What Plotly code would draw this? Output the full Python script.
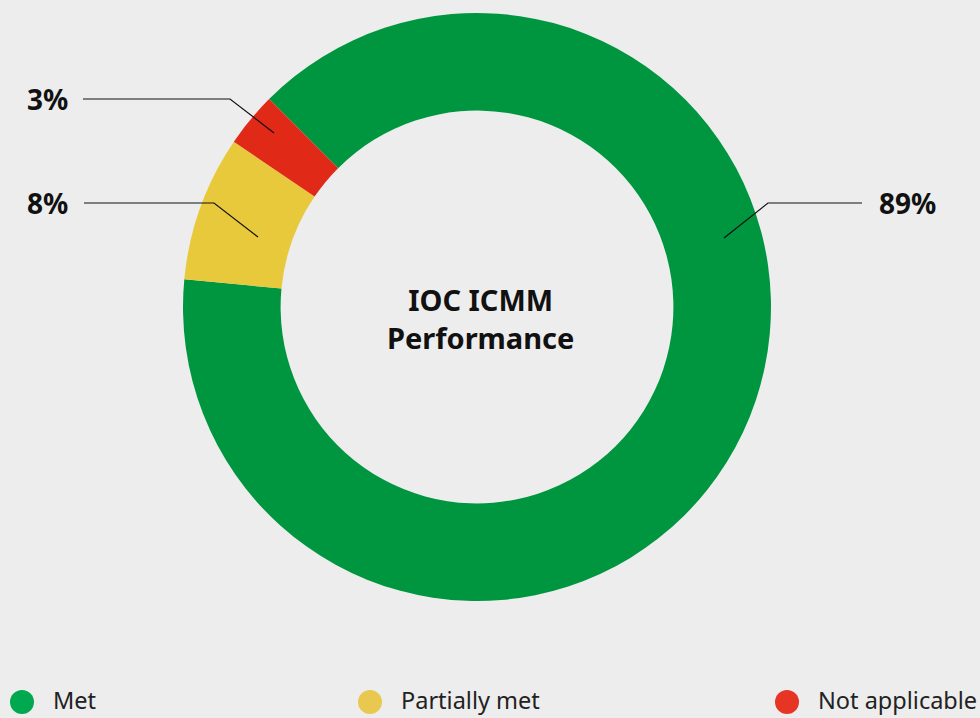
import plotly.graph_objects as go

categories = ["Met", "Partially met", "Not applicable"]
values = [89, 8, 3]
label_texts = ["89%", "8%", "3%"]
slice_colors = ["#00963f", "#e8c93c", "#e02a17"]
legend_colors = ["#00a84f", "#e8c84e", "#e63425"]
center_title = "IOC ICMM<br>Performance"

W, H = 980, 718
BG = "#ededed"
FONT = "Noto Sans"

def px(x):
    return x / W

def py(y):
    return 1 - y / H

fig = go.Figure()
fig.add_trace(go.Pie(
    labels=categories,
    values=values,
    hole=0.668,
    sort=False,
    direction="clockwise",
    rotation=-45,
    marker=dict(colors=slice_colors, line=dict(width=0)),
    textinfo="none",
    hoverinfo="label+percent",
    showlegend=False,
    domain=dict(x=[px(183), px(771)], y=[py(601), py(13)]),
))

# leader lines (pixel layout positions) and labels
leaders = [
    [(724, 238), (768, 203), (862, 203)],
    [(258, 237), (214, 203), (84, 203)],
    [(274, 133), (230, 99), (83, 99)],
]
label_pos = [(877, 203, "left"), (70, 203, "right"), (70, 99, "right")]

shapes = []
annotations = []
for pts, (lx, ly, anchor), txt in zip(leaders, label_pos, label_texts):
    path = "M " + " L ".join(f"{px(x)},{py(y)}" for x, y in pts)
    shapes.append(dict(type="path", xref="paper", yref="paper", path=path,
                       line=dict(color="#111111", width=1.2)))
    annotations.append(dict(x=px(lx), y=py(ly), xref="paper", yref="paper",
                            text=f"<b>{txt}</b>", showarrow=False,
                            xanchor=anchor, yanchor="middle",
                            font=dict(family=FONT, size=28, color="#111111")))

annotations.append(dict(x=px(480), y=py(319), xref="paper", yref="paper",
                        text=f"<b>{center_title}</b>", showarrow=False,
                        xanchor="center", yanchor="middle",
                        font=dict(family=FONT, size=29, color="#111111")))

# custom legend
legend_x = [22, 370, 787]
legend_y = 702
r = 12
for cx, cat, col in zip(legend_x, categories, legend_colors):
    shapes.append(dict(type="circle", xref="paper", yref="paper",
                       x0=px(cx - r), x1=px(cx + r), y0=py(legend_y + r), y1=py(legend_y - r),
                       fillcolor=col, line=dict(width=0)))
    annotations.append(dict(x=px(cx + 29), y=py(legend_y - 2), xref="paper", yref="paper",
                            text=cat, showarrow=False, xanchor="left", yanchor="middle",
                            font=dict(family=FONT, size=23.5, color="#222222")))

fig.update_layout(
    width=W, height=H,
    margin=dict(l=0, r=0, t=0, b=0),
    paper_bgcolor=BG, plot_bgcolor=BG,
    shapes=shapes, annotations=annotations,
    showlegend=False,
)

fig.write_html("out.html",
               config={"displayModeBar": False},
               post_script="document.body.style.margin='0';document.body.style.overflow='hidden';document.body.style.background='#ededed';")
